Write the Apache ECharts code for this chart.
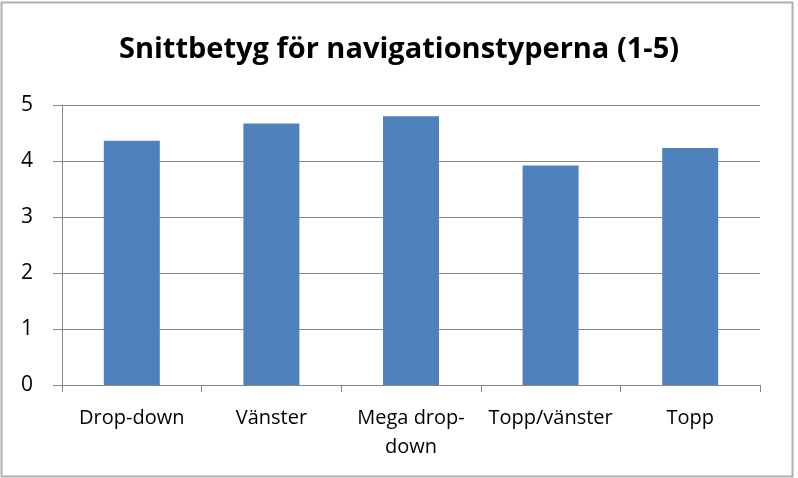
<!DOCTYPE html>
<html>
<head>
<meta charset="utf-8">
<script src="https://cdn.jsdelivr.net/npm/echarts@6/dist/echarts.min.js"></script>
<style>html,body{margin:0;padding:0;background:#fff}#c{width:798px;height:478px}</style>
</head>
<body>
<div id="c"></div>
<script>
const titleText = 'Snittbetyg för navigationstyperna (1-5)';
const categories = ['Drop-down', 'Vänster', 'Mega drop-down', 'Topp/vänster', 'Topp'];
const values = [4.36, 4.67, 4.80, 3.92, 4.23];
const yTicks = [0, 1, 2, 3, 4, 5];

const chart = echarts.init(document.getElementById('c'), null, {renderer: 'canvas'});
chart.setOption({
  backgroundColor: '#fff',
  animation: false,
  graphic: [{
    type: 'rect', shape: {x: 1.5, y: 2.5, width: 791, height: 474},
    style: {fill: 'none', stroke: '#b0b0b0', lineWidth: 2}, silent: true
  }],
  title: {
    text: titleText, left: 'center', top: 30,
    textStyle: {fontFamily: 'Open Sans', fontWeight: 'bold', fontSize: 29, color: '#000'}
  },
  grid: {left: 62, right: 38, top: 105, bottom: 93},
  xAxis: {
    type: 'category', data: categories,
    axisLine: {lineStyle: {color: '#868686', width: 1}},
    axisTick: {show: true, alignWithLabel: false, length: 7, lineStyle: {color: '#868686'}},
    axisLabel: {
      color: '#000', fontFamily: 'Open Sans', fontSize: 20, margin: 19, lineHeight: 29, interval: 0,
      formatter: v => v === 'Mega drop-down' ? 'Mega drop-\ndown' : v
    }
  },
  yAxis: {
    type: 'value', min: yTicks[0], max: yTicks[yTicks.length - 1], interval: 1,
    axisLine: {show: true, lineStyle: {color: '#868686', width: 1}},
    axisTick: {show: true, length: 9, lineStyle: {color: '#868686'}},
    splitLine: {lineStyle: {color: '#868686', width: 1}},
    axisLabel: {color: '#000', fontFamily: 'Open Sans', fontSize: 21, margin: 29}
  },
  series: [{
    type: 'bar', data: values, barWidth: 56,
    itemStyle: {color: '#4f81bd'}
  }]
});
</script>
</body>
</html>
